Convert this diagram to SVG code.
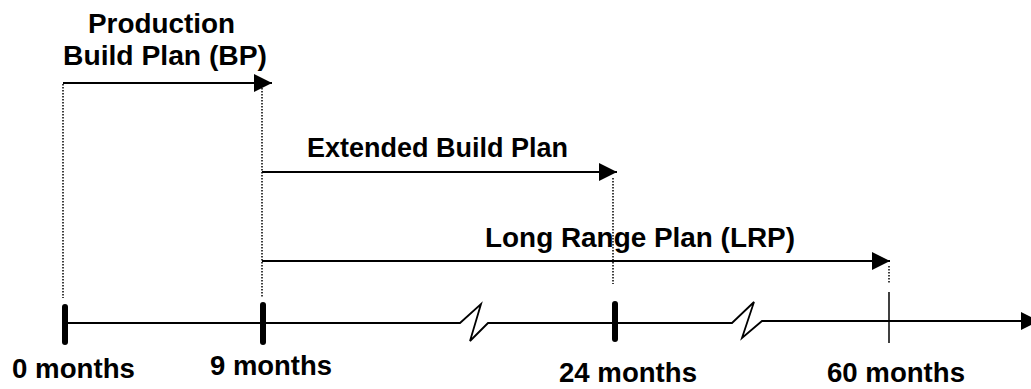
<svg xmlns="http://www.w3.org/2000/svg" width="1031" height="389" viewBox="0 0 1031 389">
<style>
.lbl{font-family:"Liberation Sans",Arial,sans-serif;font-weight:bold;font-size:27px;fill:#000}
.arr{stroke:#000;stroke-width:2;fill:none}
.dot{stroke:#000;stroke-width:1.5;stroke-dasharray:1.5 1.5;fill:none}
.tick{stroke:#000;stroke-width:6;stroke-linecap:round}
.axis{stroke:#000;stroke-width:1.8;fill:none}
</style>
<defs>
<marker id="ah" markerUnits="userSpaceOnUse" markerWidth="20" markerHeight="20" refX="18" refY="9" orient="auto">
<path d="M0,0 L18,9 L0,18 Z" fill="#000"/>
</marker>
</defs>
<g id="connectors">
<line class="dot" x1="63" y1="84" x2="63" y2="298"/>
<line class="dot" x1="262" y1="88" x2="262" y2="298"/>
<line class="dot" x1="613" y1="178" x2="613" y2="284"/>
<line class="dot" x1="889" y1="266" x2="889" y2="283"/>
<line class="arr" x1="63" y1="83" x2="272" y2="83" marker-end="url(#ah)"/>
<line class="arr" x1="262" y1="172" x2="617" y2="172" marker-end="url(#ah)"/>
<line class="arr" x1="262" y1="261" x2="890" y2="261" marker-end="url(#ah)"/>
<path class="axis" d="M65,323 H460 L481,304 L470,341 L488,323 H732 L754,302 L742,338 L762,321 H1039" marker-end="url(#ah)"/>
</g>
<g id="tick-0"><line class="tick" x1="65" y1="307" x2="65" y2="342"/></g>
<g id="tick-9"><line class="tick" x1="263" y1="305" x2="263" y2="342"/></g>
<g id="tick-24"><line class="tick" x1="615" y1="304" x2="615" y2="339"/></g>
<g id="tick-60"><line stroke="#000" stroke-width="1.5" x1="889" y1="292" x2="889" y2="343"/></g>
<g id="bp-label">
<text class="lbl" x="88" y="33" textLength="147" lengthAdjust="spacingAndGlyphs">Production</text>
<text class="lbl" x="63" y="65" textLength="204" lengthAdjust="spacingAndGlyphs">Build Plan (BP)</text>
</g>
<g id="ebp-label"><text class="lbl" x="307" y="157" textLength="261" lengthAdjust="spacingAndGlyphs">Extended Build Plan</text></g>
<g id="lrp-label"><text class="lbl" x="485" y="247" textLength="310" lengthAdjust="spacingAndGlyphs">Long Range Plan (LRP)</text></g>
<g id="m0"><text class="lbl" x="12" y="378" textLength="123" lengthAdjust="spacingAndGlyphs">0 months</text></g>
<g id="m9"><text class="lbl" x="210" y="375" textLength="122" lengthAdjust="spacingAndGlyphs">9 months</text></g>
<g id="m24"><text class="lbl" x="559" y="382" textLength="138" lengthAdjust="spacingAndGlyphs">24 months</text></g>
<g id="m60"><text class="lbl" x="827" y="382" textLength="138" lengthAdjust="spacingAndGlyphs">60 months</text></g>
</svg>
